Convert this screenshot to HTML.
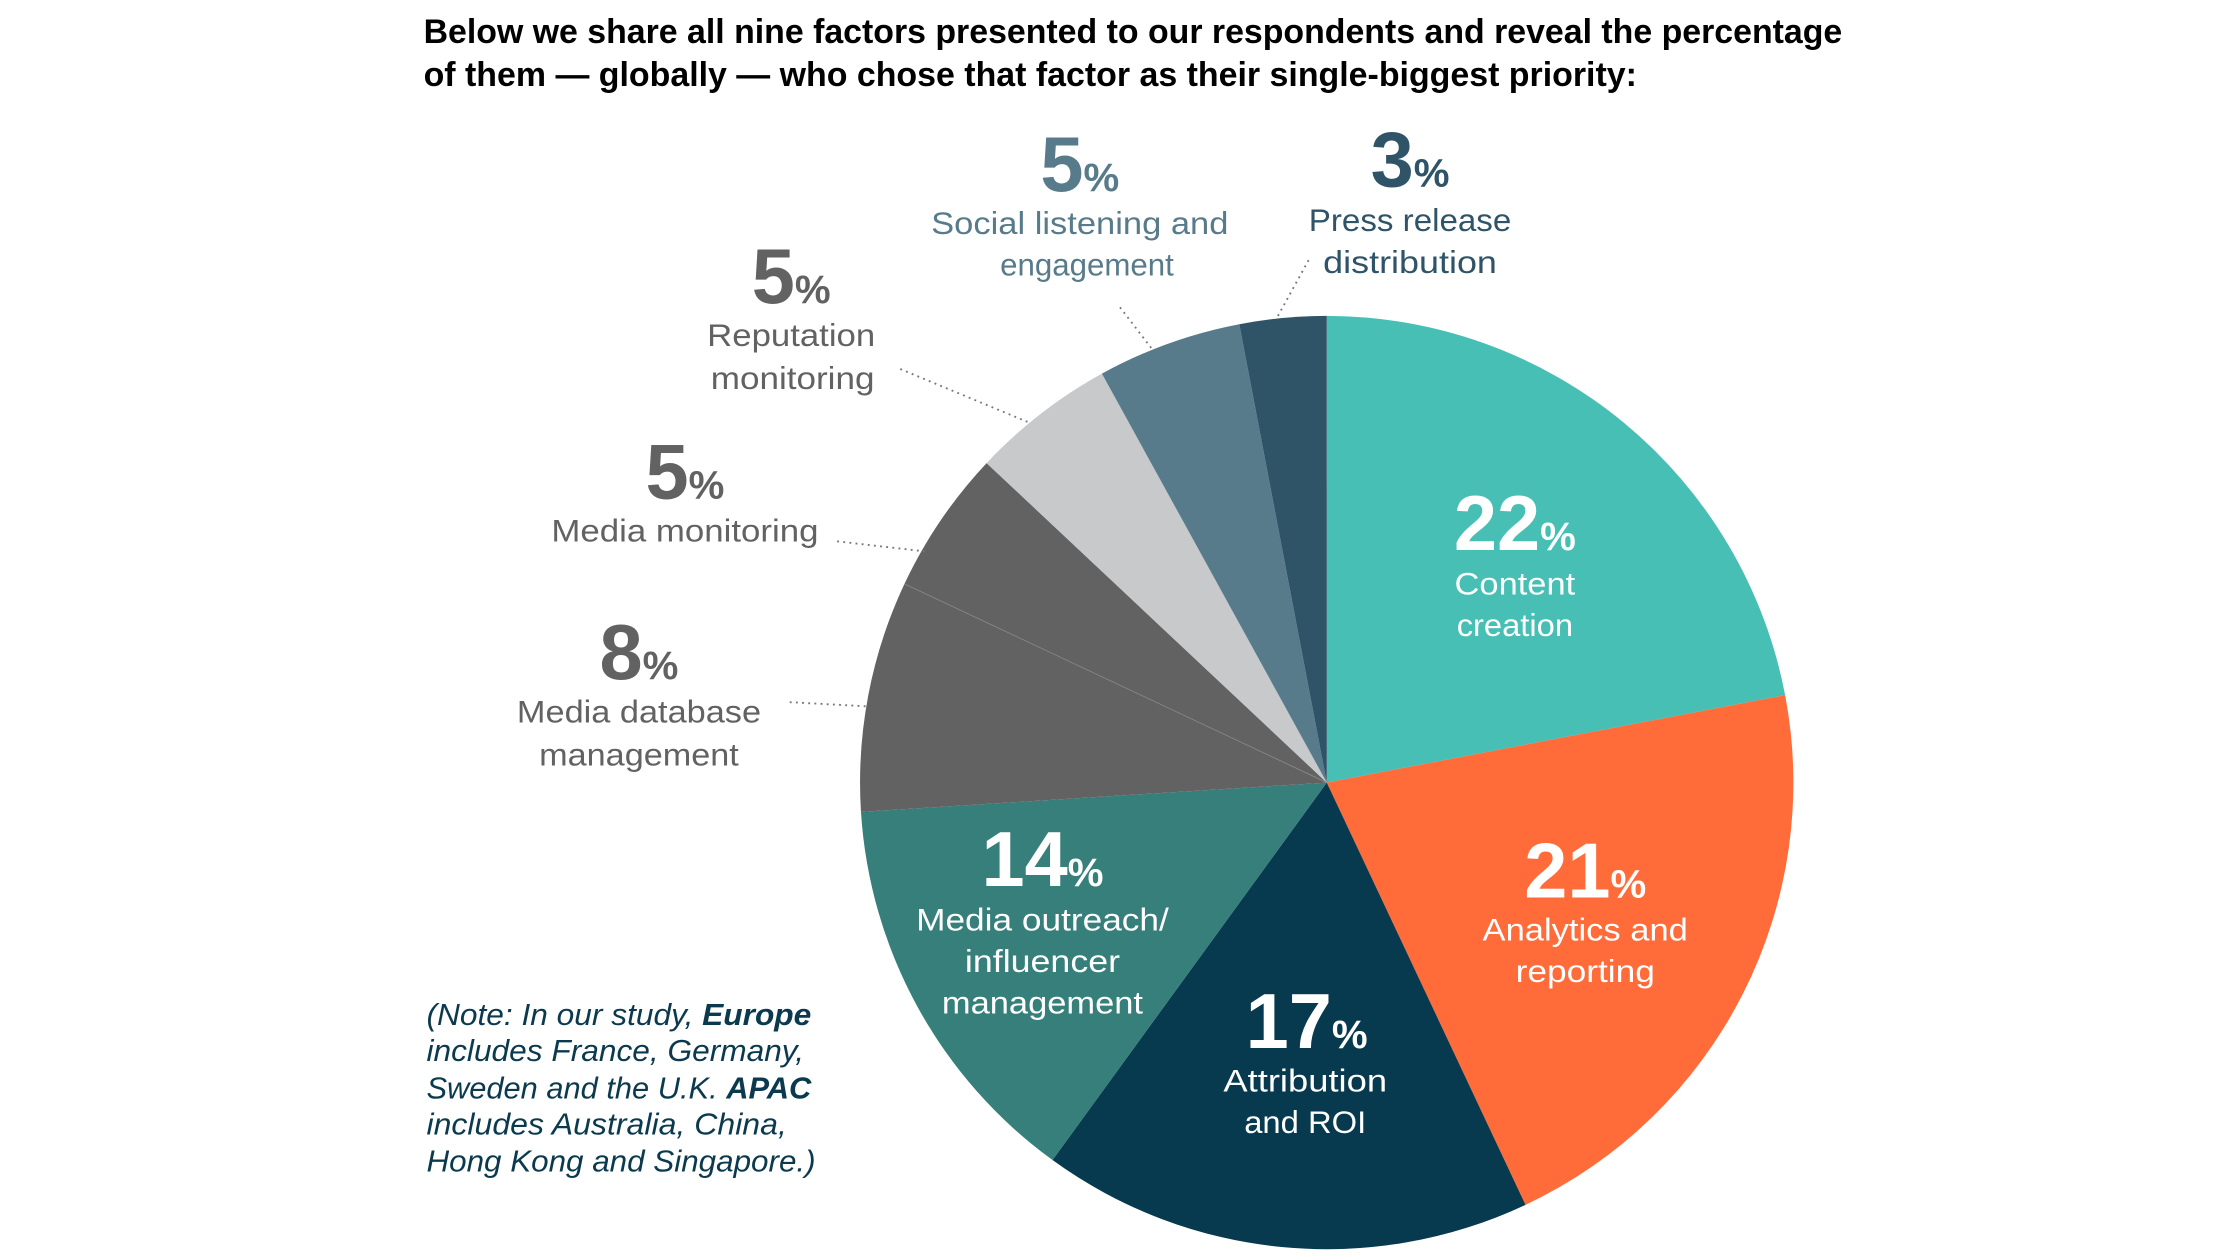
<!DOCTYPE html>
<html><head><meta charset="utf-8"><style>
html,body{margin:0;padding:0;background:#fff;}
svg{display:block;}
text{font-family:"Liberation Sans",sans-serif;}
</style></head><body>
<svg width="2240" height="1260" viewBox="0 0 1560 877.5" xmlns="http://www.w3.org/2000/svg">
<rect width="1560" height="877.5" fill="#fff"/>
<g font-weight="bold" font-size="24" fill="#000">
<text x="295" y="30" textLength="988" lengthAdjust="spacingAndGlyphs">Below we share all nine factors presented to our respondents and reveal the percentage</text>
<text x="295" y="60" textLength="845" lengthAdjust="spacingAndGlyphs">of them — globally — who chose that factor as their single-biggest priority:</text>
</g>
<g>
<path d="M924,545 L924,220 A325,325 0 0 1 1243.2,484.1 Z" fill="#48BFB5"/>
<path d="M924,545 L1243.2,484.1 A325,325 0 0 1 1062.4,839.1 Z" fill="#FF6B39"/>
<path d="M924,545 L1062.4,839.1 A325,325 0 0 1 733,807.9 Z" fill="#073A4E"/>
<path d="M924,545 L733,807.9 A325,325 0 0 1 599.6,565.4 Z" fill="#367F7A"/>
<path d="M924,545 L599.6,565.4 A325,325 0 0 1 629.9,406.6 Z" fill="#626262"/>
<path d="M924,545 L629.9,406.6 A325,325 0 0 1 687.1,322.5 Z" fill="#626262"/>
<path d="M924,545 L687.1,322.5 A325,325 0 0 1 767.4,260.2 Z" fill="#C8C9CB"/>
<path d="M924,545 L767.4,260.2 A325,325 0 0 1 863.1,225.8 Z" fill="#587B8B"/>
<path d="M924,545 L863.1,225.8 A325,325 0 0 1 924,220 Z" fill="#2F5468"/>
<line x1="924" y1="545" x2="629.9" y2="406.6" stroke="#888" stroke-width="0.6"/>
</g>
<g stroke="#777" stroke-width="1.3" stroke-dasharray="1.3,3" fill="none">
<line x1="550" y1="489" x2="605" y2="492"/>
<line x1="583" y1="377" x2="644" y2="384"/>
<line x1="627" y1="257" x2="716" y2="294"/>
<line x1="780" y1="214" x2="803" y2="244"/>
<line x1="890" y1="220" x2="912" y2="180"/>
</g>
<g text-anchor="middle" font-size="22">
<g fill="#fff">
<text x="1055" y="383" font-weight="bold" font-size="54">22<tspan font-size="28">%</tspan></text>
<text x="1055" y="414" textLength="84" lengthAdjust="spacingAndGlyphs">Content</text>
<text x="1055" y="443" textLength="81" lengthAdjust="spacingAndGlyphs">creation</text>
<text x="1104" y="625" font-weight="bold" font-size="54">21<tspan font-size="28">%</tspan></text>
<text x="1104" y="655" textLength="143" lengthAdjust="spacingAndGlyphs">Analytics and</text>
<text x="1104" y="684" textLength="97" lengthAdjust="spacingAndGlyphs">reporting</text>
<text x="910" y="730" font-weight="bold" font-size="54">17<tspan font-size="28">%</tspan></text>
<text x="909" y="760" textLength="114" lengthAdjust="spacingAndGlyphs">Attribution</text>
<text x="909" y="789" textLength="85" lengthAdjust="spacingAndGlyphs">and ROI</text>
<text x="726" y="617" font-weight="bold" font-size="54">14<tspan font-size="28">%</tspan></text>
<text x="726" y="648" textLength="176" lengthAdjust="spacingAndGlyphs">Media outreach/</text>
<text x="726" y="677" textLength="108" lengthAdjust="spacingAndGlyphs">influencer</text>
<text x="726" y="706" textLength="140" lengthAdjust="spacingAndGlyphs">management</text>
</g>
<g fill="#626262">
<text x="445" y="473" font-weight="bold" font-size="54">8<tspan font-size="28">%</tspan></text>
<text x="445" y="503" textLength="170" lengthAdjust="spacingAndGlyphs">Media database</text>
<text x="445" y="533" textLength="139" lengthAdjust="spacingAndGlyphs">management</text>
<text x="477" y="347" font-weight="bold" font-size="54">5<tspan font-size="28">%</tspan></text>
<text x="477" y="377" textLength="186" lengthAdjust="spacingAndGlyphs">Media monitoring</text>
<text x="551" y="211" font-weight="bold" font-size="54">5<tspan font-size="28">%</tspan></text>
<text x="551" y="241" textLength="117" lengthAdjust="spacingAndGlyphs">Reputation</text>
<text x="552" y="271" textLength="114" lengthAdjust="spacingAndGlyphs">monitoring</text>
</g>
<g fill="#587B8B">
<text x="752" y="133" font-weight="bold" font-size="54">5<tspan font-size="28">%</tspan></text>
<text x="752" y="163" textLength="207" lengthAdjust="spacingAndGlyphs">Social listening and</text>
<text x="757" y="192" textLength="121" lengthAdjust="spacingAndGlyphs">engagement</text>
</g>
<g fill="#2F5468">
<text x="982" y="130" font-weight="bold" font-size="54">3<tspan font-size="28">%</tspan></text>
<text x="982" y="161" textLength="141" lengthAdjust="spacingAndGlyphs">Press release</text>
<text x="982" y="190" textLength="121" lengthAdjust="spacingAndGlyphs">distribution</text>
</g>
</g>
<g font-size="21" font-style="italic" fill="#0B3A4E">
<text x="297" y="714" textLength="268" lengthAdjust="spacingAndGlyphs">(Note: In our study, <tspan font-weight="bold">Europe</tspan></text>
<text x="297" y="739" textLength="263" lengthAdjust="spacingAndGlyphs">includes France, Germany,</text>
<text x="297" y="765" textLength="268" lengthAdjust="spacingAndGlyphs">Sweden and the U.K. <tspan font-weight="bold">APAC</tspan></text>
<text x="297" y="790" textLength="251" lengthAdjust="spacingAndGlyphs">includes Australia, China,</text>
<text x="297" y="816" textLength="271" lengthAdjust="spacingAndGlyphs">Hong Kong and Singapore.)</text>
</g>
</svg>
</body></html>
